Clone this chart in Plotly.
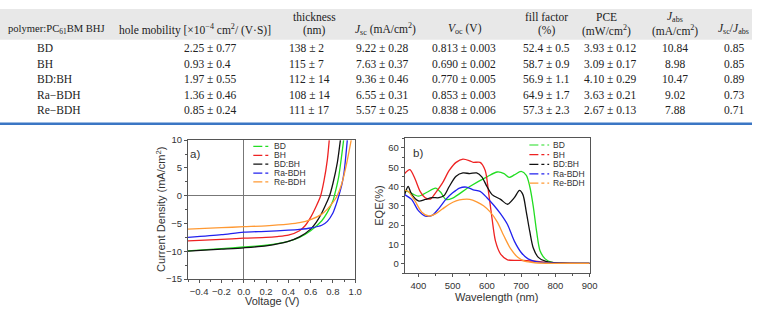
import plotly.graph_objects as go

W, H = 760, 316

# ---------------- table data ----------------
polymers = ["BD", "BH", "BD:BH", "Ra−BDH", "Re−BDH"]
mobility = ["2.25 ± 0.77", "0.93 ± 0.4", "1.97 ± 0.55", "1.36 ± 0.46", "0.85 ± 0.24"]
thickness = ["138 ± 2", "115 ± 7", "112 ± 14", "108 ± 14", "111 ± 17"]
jsc = ["9.22 ± 0.28", "7.63 ± 0.37", "9.36 ± 0.46", "6.55 ± 0.31", "5.57 ± 0.25"]
voc = ["0.813 ± 0.003", "0.690 ± 0.002", "0.770 ± 0.005", "0.853 ± 0.003", "0.838 ± 0.006"]
fill_factor = ["52.4 ± 0.5", "58.7 ± 0.9", "56.9 ± 1.1", "64.9 ± 1.7", "57.3 ± 2.3"]
pce = ["3.93 ± 0.12", "3.09 ± 0.17", "4.10 ± 0.29", "3.63 ± 0.21", "2.67 ± 0.13"]
jabs = ["10.84", "8.98", "10.47", "9.02", "7.88"]
jsc_jabs = ["0.85", "0.85", "0.89", "0.73", "0.71"]

# ---------------- chart data ----------------
series_names = ["BD", "BH", "BD:BH", "Ra-BDH", "Re-BDH"]
series_colors = ["#22dd22", "#ee2222", "#111111", "#2222ee", "#ff9933"]

# J-V curves (V in volts, J in mA/cm2)
jv_v = {
    "BD":     [-0.5, -0.2, 0.0, 0.2, 0.4, 0.5, 0.6, 0.7, 0.75, 0.8, 0.813, 0.85, 0.896],
    "BH":     [-0.5, -0.2, 0.0, 0.2, 0.3, 0.4, 0.5, 0.55, 0.6, 0.65, 0.69, 0.72, 0.75, 0.767],
    "BD:BH":  [-0.5, -0.2, 0.0, 0.2, 0.4, 0.5, 0.6, 0.65, 0.7, 0.74, 0.77, 0.8, 0.84, 0.867],
    "Ra-BDH": [-0.5, -0.2, 0.0, 0.2, 0.4, 0.5, 0.6, 0.7, 0.75, 0.8, 0.83, 0.853, 0.88, 0.9, 0.929],
    "Re-BDH": [-0.5, -0.2, 0.0, 0.2, 0.4, 0.5, 0.6, 0.7, 0.75, 0.8, 0.838, 0.88, 0.92, 0.964],
}
jv_j = {
    "BD":     [-9.9, -9.5, -9.22, -8.9, -8.2, -7.5, -6.3, -4.5, -3.0, -0.9, 0.0, 3.2, 10.0],
    "BH":     [-8.1, -7.85, -7.63, -7.5, -7.35, -7.1, -6.3, -5.4, -3.9, -1.9, 0.0, 2.7, 6.5, 10.0],
    "BD:BH":  [-9.95, -9.6, -9.36, -9.0, -8.2, -7.4, -6.0, -4.8, -3.1, -1.4, 0.0, 2.2, 6.0, 10.0],
    "Ra-BDH": [-7.5, -7.0, -6.55, -6.4, -6.2, -6.05, -5.8, -5.3, -4.6, -3.1, -1.5, 0.0, 2.0, 4.2, 10.0],
    "Re-BDH": [-6.0, -5.75, -5.57, -5.4, -5.1, -4.85, -4.3, -3.3, -2.4, -1.2, 0.0, 2.2, 5.5, 10.0],
}

# EQE spectra (wavelength nm, EQE %)
eqe_wl = {
    "BD":     [362, 375, 400, 425, 450, 465, 480, 500, 550, 600, 630, 650, 665, 680, 700, 715, 725, 735, 745, 755, 770, 790, 820, 900],
    "BH":     [360, 375, 390, 405, 420, 435, 450, 470, 490, 510, 530, 550, 560, 580, 595, 605, 615, 625, 640, 660, 700, 740, 780, 820, 900],
    "BD:BH":  [360, 370, 380, 400, 420, 440, 460, 475, 490, 510, 530, 550, 570, 585, 600, 615, 640, 660, 680, 695, 705, 715, 725, 735, 750, 770, 800, 900],
    "Ra-BDH": [360, 380, 400, 420, 440, 460, 480, 500, 520, 540, 560, 580, 600, 620, 640, 660, 680, 700, 720, 740, 760, 800, 900],
    "Re-BDH": [360, 370, 390, 410, 430, 450, 470, 490, 510, 530, 550, 570, 590, 610, 630, 650, 670, 690, 710, 740, 800, 900],
}
eqe_val = {
    "BD":     [38.0, 37.0, 35.0, 37.0, 39.2, 37.0, 33.3, 34.0, 40.0, 45.0, 47.5, 46.7, 44.7, 46.0, 47.8, 45.8, 40.0, 30.0, 16.7, 6.7, 2.5, 0.7, 0.3, 0.2],
    "BH":     [46.7, 48.7, 44.0, 37.5, 34.2, 33.5, 36.7, 41.7, 48.3, 52.5, 54.2, 53.3, 52.5, 52.5, 48.3, 36.7, 23.3, 11.7, 5.0, 2.0, 1.7, 1.3, 0.5, 0.3, 0.2],
    "BD:BH":  [35.8, 40.0, 36.0, 32.5, 33.3, 34.2, 34.2, 35.3, 40.0, 45.3, 47.0, 46.7, 47.0, 45.0, 40.0, 35.8, 33.3, 30.8, 34.2, 38.0, 35.8, 26.7, 16.7, 8.3, 3.3, 1.3, 0.4, 0.2],
    "Ra-BDH": [35.8, 33.3, 27.5, 24.7, 25.0, 28.7, 33.3, 36.7, 39.2, 39.7, 38.3, 37.5, 34.2, 30.3, 25.8, 20.3, 11.7, 5.8, 2.5, 1.2, 0.7, 0.3, 0.2],
    "Re-BDH": [38.0, 37.5, 32.5, 26.7, 24.7, 25.8, 28.3, 30.8, 32.5, 33.3, 33.3, 32.0, 30.0, 26.7, 21.7, 14.2, 7.5, 3.3, 1.3, 0.5, 0.2, 0.2],
}

# ---------------- helpers ----------------
def px(x):
    return x / W

def py(y):
    return 1 - y / H

SERIF = "Liberation Serif"
SANS = "Liberation Sans"
TXT = "#222222"
AX = "#555555"

fig = go.Figure()

# J-V traces
for name, col in zip(series_names, series_colors):
    fig.add_trace(go.Scatter(
        x=jv_v[name], y=jv_j[name], mode="lines", name=name,
        line=dict(color=col, width=1.3, shape="spline", smoothing=0.7),
        xaxis="x", yaxis="y", showlegend=False))

# EQE traces
for name, col in zip(series_names, series_colors):
    fig.add_trace(go.Scatter(
        x=eqe_wl[name], y=eqe_val[name], mode="lines", name=name,
        line=dict(color=col, width=1.3, shape="spline", smoothing=0.8),
        xaxis="x2", yaxis="y2", showlegend=False))

shapes = []
annotations = []

# ---------------- table ----------------
shapes.append(dict(type="rect", xref="paper", yref="paper",
                   x0=0, x1=1, y0=py(35), y1=py(3),
                   fillcolor="#e8e8e8", line=dict(width=0), layer="below"))
shapes.append(dict(type="line", xref="paper", yref="paper",
                   x0=0, x1=1, y0=py(122), y1=py(122),
                   line=dict(color="#3b76c4", width=2.5)))

TSIZE = 11.5

def tann(text, x, y, anchor="center", size=TSIZE):
    annotations.append(dict(text=text, x=px(x), y=py(y), xref="paper", yref="paper",
                            xanchor=anchor, yanchor="middle", showarrow=False,
                            font=dict(family=SERIF, size=size, color=TXT)))

# header (one-line)
tann("polymer:PC<sub>61</sub>BM BHJ", 6, 24, "left", 10.6)
tann("hole mobility [×10<sup>−4</sup> cm<sup>2</sup>/ (V·S)]", 197, 24)
tann("<i>J</i><sub>sc</sub> (mA/cm<sup>2</sup>)", 390, 24)
tann("<i>V</i><sub>oc</sub> (V)", 470, 24)
tann("<i>J</i><sub>sc</sub>/<i>J</i><sub>abs</sub>", 741, 24)
# header (two-line)
tann("thickness", 318, 11)
tann("(nm)", 318, 25)
tann("fill factor", 552, 11)
tann("(%)", 552, 25)
tann("PCE", 613, 11)
tann("(mW/cm<sup>2</sup>)", 613, 25)
tann("<i>J</i><sub>abs</sub>", 682, 11)
tann("(mA/cm<sup>2</sup>)", 682, 25)

row_y = [44, 60, 76, 92, 108]
columns = [
    (polymers, 35, "left"),
    (mobility, 184, "left"),
    (thickness, 290, "left"),
    (jsc, 358, "left"),
    (voc, 435, "left"),
    (fill_factor, 527, "left"),
    (pce, 588, "left"),
    (jabs, 682, "center"),
    (jsc_jabs, 742, "center"),
]
for vals, x, anc in columns:
    for v, y in zip(vals, row_y):
        tann(v, x, y, anc)

# ---------------- chart legends ----------------
def legend(x_line0, x_line1, x_text, ys):
    for name, col, y in zip(series_names, series_colors, ys):
        shapes.append(dict(type="line", xref="paper", yref="paper",
                           x0=px(x_line0), x1=px(x_line1), y0=py(y), y1=py(y),
                           line=dict(color=col, width=1.2, dash="dashdot")))
        annotations.append(dict(text=name, x=px(x_text), y=py(y), xref="paper", yref="paper",
                                xanchor="left", yanchor="middle", showarrow=False,
                                font=dict(family=SANS, size=8.5, color="#333333")))

legend(256, 273, 275, [145.5, 154.7, 163.9, 173.1, 182.3])
legend(535, 555, 557, [144, 154, 164, 174, 183.5])

# panel labels
annotations.append(dict(text="a)", x=px(197), y=py(153), xref="paper", yref="paper",
                        xanchor="center", yanchor="middle", showarrow=False,
                        font=dict(family=SANS, size=11.5, color="#333333")))
annotations.append(dict(text="b)", x=px(422), y=py(152), xref="paper", yref="paper",
                        xanchor="center", yanchor="middle", showarrow=False,
                        font=dict(family=SANS, size=11.5, color="#333333")))

# axis titles as annotations for precise placement
annotations.append(dict(text="Voltage (V)", x=px(274.5), y=py(306), xref="paper", yref="paper",
                        xanchor="center", yanchor="middle", showarrow=False,
                        font=dict(family=SANS, size=11, color="#333333")))
annotations.append(dict(text="Current Density (mA/cm<sup>2</sup>)", x=px(162), y=py(211), xref="paper", yref="paper",
                        xanchor="center", yanchor="middle", showarrow=False, textangle=-90,
                        font=dict(family=SANS, size=11, color="#333333")))
annotations.append(dict(text="Wavelength (nm)", x=px(502), y=py(302), xref="paper", yref="paper",
                        xanchor="center", yanchor="middle", showarrow=False,
                        font=dict(family=SANS, size=11, color="#333333")))
annotations.append(dict(text="EQE(%)", x=px(383), y=py(207), xref="paper", yref="paper",
                        xanchor="center", yanchor="middle", showarrow=False, textangle=-90,
                        font=dict(family=SANS, size=11, color="#333333")))

tickfont = dict(family=SANS, size=9.5, color="#333333")

def axis(domain, rng, dtick, minor_dtick, anchor, fmt=None, zeroline=False):
    d = dict(domain=domain, range=rng, dtick=dtick, anchor=anchor,
             showline=True, mirror=True, linecolor=AX, linewidth=1,
             ticks="outside", ticklen=3, tickcolor=AX, tickwidth=1,
             showgrid=False, zeroline=zeroline, zerolinecolor="#777777", zerolinewidth=1,
             tickfont=tickfont,
             minor=dict(ticks="outside", ticklen=2, tickcolor=AX, dtick=minor_dtick, showgrid=False))
    if fmt:
        d["tickformat"] = fmt
    return d

fig.update_layout(
    width=W, height=H, margin=dict(l=0, r=0, t=0, b=0),
    paper_bgcolor="white", plot_bgcolor="white",
    xaxis=axis([px(190), px(359)], [-0.5, 1.0], 0.2, 0.1, "y", ".1f", True),
    yaxis=axis([py(283), py(139)], [-15, 10], 5, 2.5, "x", None, True),
    xaxis2=axis([px(409), px(596)], [360, 900], 100, 50, "y2"),
    yaxis2=axis([py(277), py(137)], [-5, 65], 10, 5, "x2"),
    shapes=shapes, annotations=annotations,
)

fig.write_html("out.html")
